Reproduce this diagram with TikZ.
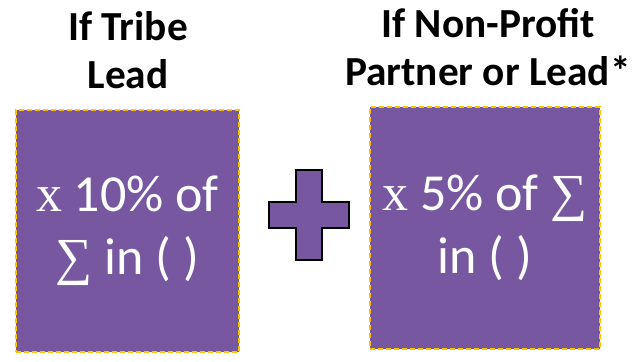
\documentclass[tikz,border=0pt]{standalone}
\usepackage{fontspec}
\setmainfont{Carlito}
\newfontfamily\mathsym{Liberation Serif}
\usetikzlibrary{positioning}
\definecolor{tile}{HTML}{7657A0}
\definecolor{gold}{HTML}{FFC000}
\tikzset{
  tilebox/.style={fill=tile,draw=gold,line width=1.4pt,dash pattern=on 4pt off 2pt,
    align=center,text=white,font=\fontsize{39}{47}\selectfont,inner sep=0pt,minimum height=181.5pt},
  head/.style={align=center,font=\fontsize{31}{36.5}\selectfont\bfseries,inner sep=0pt},
}
\begin{document}
\begin{tikzpicture}[x=0.75pt,y=-0.75pt]
\useasboundingbox (0,0) rectangle (641,361);
\node[head] (tribehead) at (128,50) {If Tribe\\Lead};
\node[head] (npohead) at (488,47) {If Non-Profit\\Partner or Lead*};
\node[tilebox,minimum width=167.25pt] (tribe) at (127.5,231) {{\mathsym x} 10\% of\\{\mathsym ∑} in ( )};
\node[tilebox,minimum width=172.5pt] (npo) at (485,228) {{\mathsym x} 5\% of {\mathsym ∑}\\in ( )};
% plus sign between the two tiles
\draw[fill=tile,line width=2pt,line join=miter] (296,170) -- (322,170) -- (322,202) -- (349,202) -- (349,228)
  -- (322,228) -- (322,260) -- (296,260) -- (296,228) -- (269,228) -- (269,202) -- (296,202) -- cycle;
\end{tikzpicture}
\end{document}
